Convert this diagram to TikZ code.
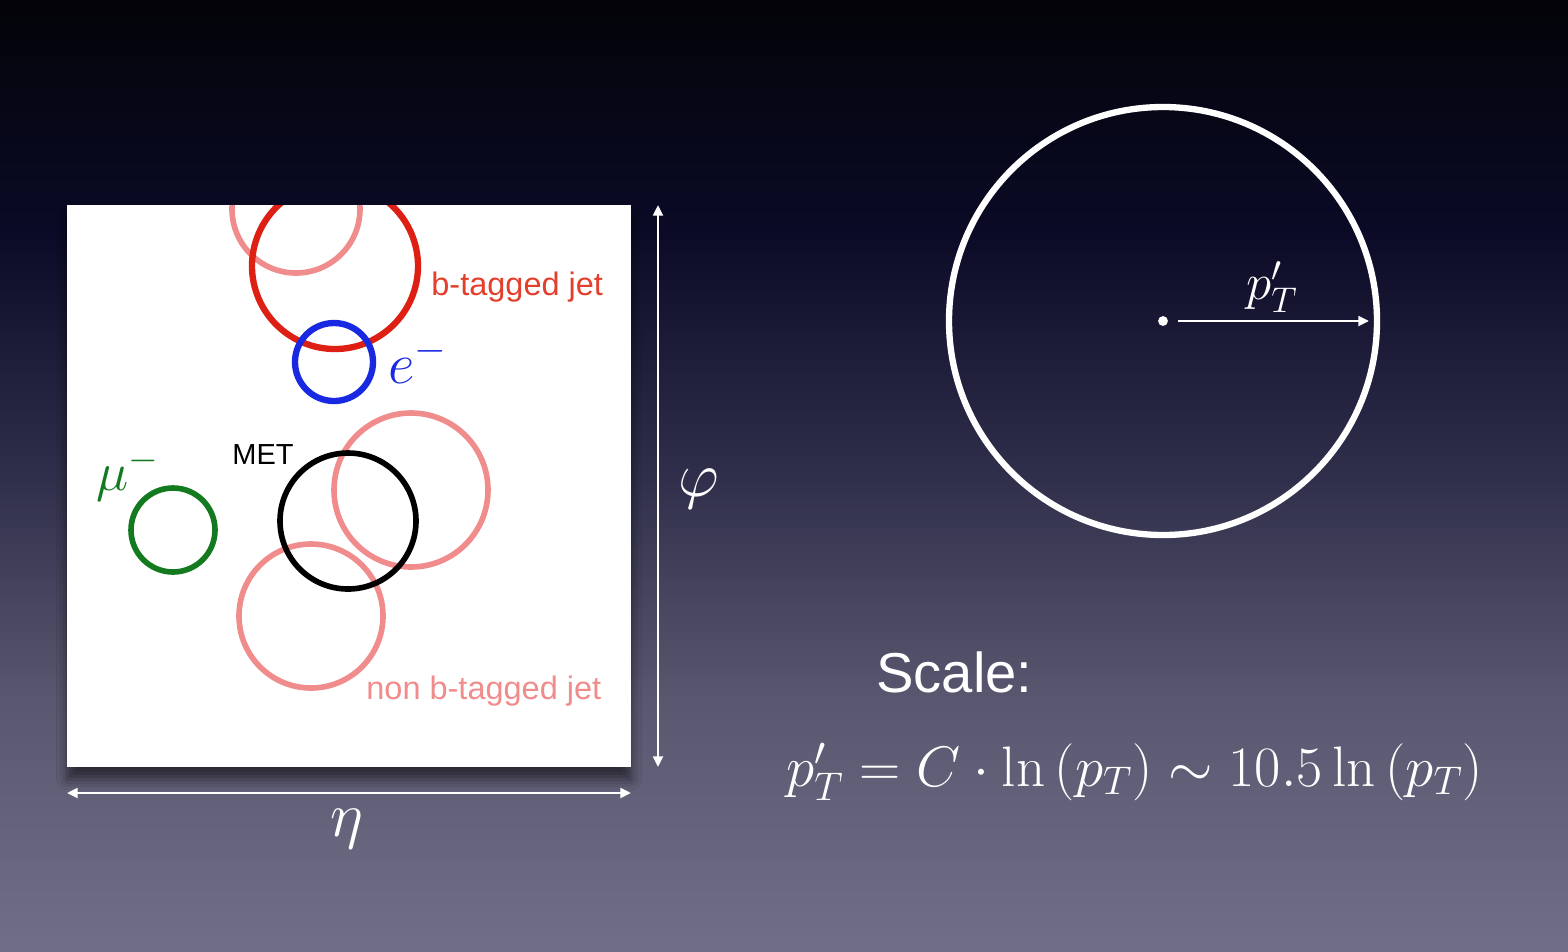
\RequirePackage{fix-cm}
\documentclass[tikz,border=0pt]{standalone}
\usepackage[no-math]{fontspec}
\usepackage{xcolor}
\usetikzlibrary{arrows.meta, shadows.blur}
\newfontfamily\slidefont{Liberation Sans}

\definecolor{bgtop}{RGB}{3,3,8}
\definecolor{bgnavy}{RGB}{10,10,38}
\definecolor{bgmid}{RGB}{48,47,75}
\definecolor{bglow}{RGB}{90,88,112}
\definecolor{bgbot}{RGB}{113,111,135}
\definecolor{btagred}{RGB}{222,32,20}
\definecolor{btagtext}{RGB}{226,64,44}
\definecolor{jetpink}{RGB}{241,140,140}
\definecolor{eblue}{RGB}{25,40,225}
\definecolor{mugreen}{RGB}{20,122,32}
\pgfdeclareverticalshading{slidebg}{100bp}{color(0bp)=(bgbot); color(25bp)=(bgbot); color(38bp)=(bglow); color(50bp)=(bgmid); color(63bp)=(bgnavy); color(75bp)=(bgtop); color(100bp)=(bgtop)}

\begin{document}
\begin{tikzpicture}[
    x=0.02cm, y=-0.02cm,
    lbl/.style     = {font=\slidefont\fontsize{18.5}{22}\selectfont, inner sep=0pt, anchor=base west},
    mlbl/.style    = {font=\fontsize{31}{37}\selectfont, inner sep=0pt},
    ring/.style    = {line width=3.6pt},
    pinkring/.style= {line width=3.2pt, jetpink},
    axisarr/.style = {{Triangle[length=6pt,width=5.5pt]}-{Triangle[length=6pt,width=5.5pt]}, white, line width=1.6pt},
    radarr/.style  = {-{Triangle[length=6pt,width=5.5pt]}, white, line width=1.6pt},
    dot/.style     = {circle, fill=white, inner sep=0pt, minimum size=5.6pt}
]

% ---- Background ----
\shade[shading=slidebg] (0,0) rectangle (1568,951);
\useasboundingbox (0,0) rectangle (1568,951);

% ---- Event display (eta-phi plane) ----
\fill[white, blur shadow={shadow xshift=0pt, shadow yshift=-7pt, shadow blur radius=6pt, shadow opacity=55}] (67,205) rectangle (631,767);
\begin{scope}
  \clip (67,205) rectangle (631,767);
  \draw[pinkring] (296,209) circle[radius=64];
  \draw[ring, btagred] (335,266) circle[radius=83];
  \draw[ring, eblue] (334,362) circle[radius=39];
  \draw[pinkring] (411,490) circle[radius=77];
  \draw[pinkring] (311,616) circle[radius=72];
  \draw[ring, line width=3.2pt, black] (348,521) circle[radius=68];
  \draw[ring, line width=3.2pt, mugreen] (173,530) circle[radius=42];
\end{scope}

% ---- Labels inside the display ----
\node[lbl, text=btagtext] (btag)  at (431,295) {b-tagged jet};
\node[lbl, text=jetpink]  (nbtag) at (366,699) {non b-tagged jet};
\node[lbl, font=\slidefont\fontsize{16.5}{20}\selectfont] (met) at (232,464) {MET};
\node[mlbl, font=\fontsize{33}{39}\selectfont, anchor=base west, text=eblue]   (ele) at (388,383) {$e^-$};
\node[mlbl, anchor=base west, text=mugreen] (mu)  at (96,490)  {$\mu^-$};

% ---- Axes ----
\coordinate (phitop) at (658,205);
\coordinate (phibot) at (658,767);
\coordinate (etaleft)  at (67,793);
\coordinate (etaright) at (631,793);
\draw[axisarr] (phitop) -- (phibot);
\draw[axisarr] (etaleft) -- (etaright);
\node[mlbl, font=\fontsize{36}{42}\selectfont, text=white] (phi) at (699,489) {$\varphi$};
\node[mlbl, font=\fontsize{36}{42}\selectfont, text=white] (eta) at (347,829) {$\eta$};

% ---- Scale circle ----
\draw[white, line width=3.6pt] (1163,321) circle[radius=214];
\node[dot] (ctr) at (1163,321) {};
\coordinate (rstart) at (1178,321);
\coordinate (rim) at (1369,321);
\draw[radarr] (rstart) -- (rim);
\node[mlbl, font=\fontsize{29}{34}\selectfont, text=white] (ptp) at (1272,287) {$p'_T$};

% ---- Scale formula ----
\node[lbl, font=\slidefont\fontsize{32}{38}\selectfont, text=white] (scl) at (876,692) {Scale:};
\node[mlbl, font=\fontsize{32.5}{39}\selectfont, text=white, anchor=west] (form) at (786,772) {$p'_T = C\cdot\ln\left(p_T\right)\sim 10.5\ln\left(p_T\right)$};

\end{tikzpicture}
\end{document}
